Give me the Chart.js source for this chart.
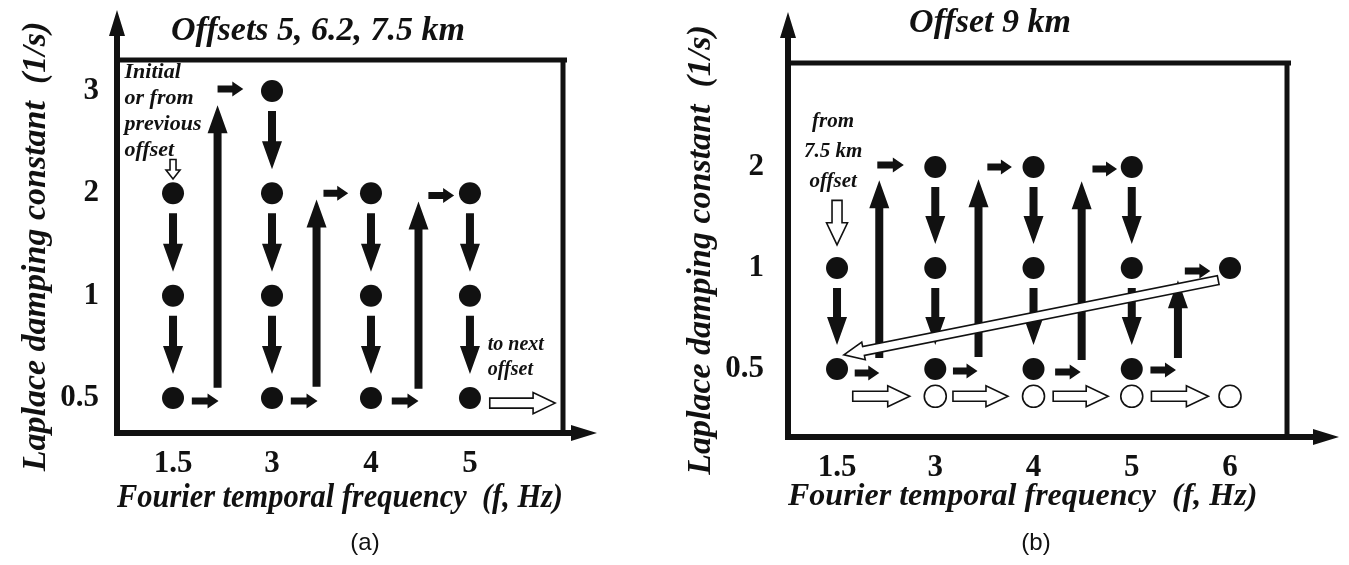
<!DOCTYPE html>
<html>
<head>
<meta charset="utf-8">
<title>Frequency / damping continuation sequence</title>
<script src="https://cdn.jsdelivr.net/npm/chart.js"></script>
<style>
  body { margin: 0; background: #fff; }
  .panel { position: absolute; top: 0; height: 565px; }
  #panelA { left: 0; width: 660px; }
  #panelB { left: 660px; width: 689px; }
</style>
</head>
<body>
<div class="panel" id="panelA"><canvas id="chartA"></canvas></div>
<div class="panel" id="panelB"><canvas id="chartB"></canvas></div>
<script>
// tick labels -- marks are placed on the tick index, so the columns/rows are evenly spaced
const freqTicksA = ['1.5', '3', '4', '5'];
const dampTicksA = ['0.5', '1', '2', '3'];
const freqTicksB = ['1.5', '3', '4', '5', '6'];
const dampTicksB = ['0.5', '1', '2'];

// inversion steps [freqIndex, dampIndex]
const dotsA = [[0, 2], [0, 1], [0, 0], [1, 3], [1, 2], [1, 1], [1, 0],
               [2, 2], [2, 1], [2, 0], [3, 2], [3, 1], [3, 0]];
const dotsB = [[0, 1], [0, 0], [1, 2], [1, 1], [1, 0], [2, 2], [2, 1], [2, 0],
               [3, 2], [3, 1], [3, 0], [4, 1]];
// open circles sit on their own row just under 0.5
const openRowB = -0.27;
const openColsB = [1, 2, 3, 4];

// arrows, [x1, y1, x2, y2] in index units
const stepDownA = [[0, 2, 0, 1], [0, 1, 0, 0], [1, 3, 1, 2], [1, 2, 1, 1], [1, 1, 1, 0],
                   [2, 2, 2, 1], [2, 1, 2, 0], [3, 2, 3, 1], [3, 1, 3, 0]];
const hopA = [[0.19, -0.03, 0.46, -0.03], [1.19, -0.03, 1.46, -0.03], [2.21, -0.03, 2.48, -0.03],
              [0.45, 3.02, 0.71, 3.02], [1.52, 2.0, 1.77, 2.0], [2.58, 1.98, 2.84, 1.98]];
const climbA = [[0.45, 0.1, 0.45, 2.86], [1.45, 0.11, 1.45, 1.94], [2.48, 0.09, 2.48, 1.92]];
const nextOffsetA = [[3.2, -0.05, 3.86, -0.05]];
const startA = [[0, 2.33, 0, 2.14]];

const stepDownB = [[0, 1, 0, 0], [1, 2, 1, 1], [1, 1, 1, 0], [2, 2, 2, 1], [2, 1, 2, 0],
                   [3, 2, 3, 1], [3, 1, 3, 0]];
const hopB = [[0.18, -0.04, 0.43, -0.04], [1.18, -0.02, 1.43, -0.02], [2.22, -0.03, 2.48, -0.03],
              [3.19, -0.01, 3.45, -0.01], [0.41, 2.02, 0.68, 2.02], [1.53, 2.0, 1.78, 2.0],
              [2.6, 1.98, 2.85, 1.98], [3.54, 0.97, 3.8, 0.97]];
const climbB = [[0.43, 0.11, 0.43, 1.87], [1.44, 0.12, 1.44, 1.88], [2.49, 0.09, 2.49, 1.86],
                [3.47, 0.11, 3.47, 0.88]];
const openHopB = [[0.16, -0.27, 0.74, -0.27], [1.18, -0.27, 1.74, -0.27],
                  [2.2, -0.27, 2.76, -0.27], [3.2, -0.27, 3.78, -0.27]];
const returnB = [[3.88, 0.88, 0.07, 0.14]];
const startB = [[0, 1.67, 0, 1.23]];

const INK = '#111';
const SERIF = '"Liberation Serif", "Times New Roman", serif';

const styles = {
  big:    { shaft: 8, head: 28, headW: 20 },
  small:  { shaft: 7, head: 11, headW: 15 },
  open:   { shaft: 10, head: 22, headW: 21, hollow: true },
  openSm: { shaft: 6, head: 9, headW: 14, hollow: true },
  long:   { shaft: 9, head: 20, headW: 18, hollow: true }
};

function drawArrow(ctx, x1, y1, x2, y2, s) {
  const len = Math.hypot(x2 - x1, y2 - y1);
  const hl = Math.min(s.head, len * 0.6);
  ctx.save();
  ctx.translate(x1, y1);
  ctx.rotate(Math.atan2(y2 - y1, x2 - x1));
  ctx.beginPath();
  ctx.moveTo(0, -s.shaft / 2);
  ctx.lineTo(len - hl, -s.shaft / 2);
  ctx.lineTo(len - hl, -s.headW / 2);
  ctx.lineTo(len, 0);
  ctx.lineTo(len - hl, s.headW / 2);
  ctx.lineTo(len - hl, s.shaft / 2);
  ctx.lineTo(0, s.shaft / 2);
  ctx.closePath();
  if (s.hollow) {
    ctx.fillStyle = '#fff';
    ctx.fill();
    ctx.lineWidth = 1.6;
    ctx.strokeStyle = INK;
    ctx.stroke();
  } else {
    ctx.fillStyle = INK;
    ctx.fill();
  }
  ctx.restore();
}

// arrows between two dots are trimmed so they start/stop short of the markers
function drawArrowSet(chart, list, style, trimStart, trimEnd) {
  const { ctx, scales: { x, y } } = chart;
  list.forEach(([a, b, c, d]) => {
    let x1 = x.getPixelForValue(a), y1 = y.getPixelForValue(b);
    let x2 = x.getPixelForValue(c), y2 = y.getPixelForValue(d);
    const len = Math.hypot(x2 - x1, y2 - y1);
    const ux = (x2 - x1) / len, uy = (y2 - y1) / len;
    x1 += ux * trimStart; y1 += uy * trimStart;
    x2 -= ux * trimEnd; y2 -= uy * trimEnd;
    drawArrow(ctx, x1, y1, x2, y2, style);
  });
}

function drawNote(chart, note) {
  const { ctx, scales: { x, y } } = chart;
  ctx.save();
  ctx.font = 'italic bold ' + note.size + 'px ' + SERIF;
  ctx.fillStyle = INK;
  ctx.textAlign = note.align;
  ctx.textBaseline = 'middle';
  const px = x.getPixelForValue(note.x);
  const py = y.getPixelForValue(note.y);
  note.lines.forEach((t, i) => ctx.fillText(t, px, py + i * note.lead));
  ctx.restore();
}

// frame: axis arrows beyond the plot box, plus top/right edges of the box
const framePlugin = {
  id: 'frame',
  beforeDatasetsDraw(chart, args, o) {
    const { ctx, chartArea: a } = chart;
    ctx.save();
    ctx.strokeStyle = INK;
    ctx.fillStyle = INK;
    ctx.lineWidth = 5;
    ctx.beginPath();
    ctx.moveTo(a.left, a.top);
    ctx.lineTo(a.right + 4, a.top);
    ctx.moveTo(a.right, a.top);
    ctx.lineTo(a.right, a.bottom);
    ctx.stroke();
    ctx.lineWidth = 6;
    ctx.beginPath();
    ctx.moveTo(a.left, a.top);
    ctx.lineTo(a.left, o.yTip + 20);
    ctx.moveTo(a.right, a.bottom);
    ctx.lineTo(o.xTip - 20, a.bottom);
    ctx.stroke();
    ctx.beginPath();
    ctx.moveTo(a.left, o.yTip);
    ctx.lineTo(a.left - 8, o.yTip + 26);
    ctx.lineTo(a.left + 8, o.yTip + 26);
    ctx.closePath();
    ctx.moveTo(o.xTip, a.bottom);
    ctx.lineTo(o.xTip - 26, a.bottom - 8);
    ctx.lineTo(o.xTip - 26, a.bottom + 8);
    ctx.closePath();
    ctx.fill();

    ctx.textAlign = 'center';
    ctx.textBaseline = 'middle';
    ctx.font = 'italic bold 34px ' + SERIF;
    ctx.fillText(o.title, o.titleX, o.titleY);
    ctx.font = '24px "Liberation Sans", Arial, sans-serif';
    ctx.fillText(o.tag, o.tagX, o.tagY);
    ctx.restore();
  },
  afterDatasetsDraw(chart, args, o) {
    o.arrows.forEach(g => drawArrowSet(chart, g.list, styles[g.style], g.trim[0], g.trim[1]));
    o.notes.forEach(n => drawNote(chart, n));
  }
};

function makeChart(id, cfg) {
  const ticksOf = labels => scale => { scale.ticks = labels.map((_, i) => ({ value: i })); };
  const datasets = [{
    data: cfg.dots.map(([x, y]) => ({ x, y })),
    pointRadius: 11, pointHoverRadius: 11,
    backgroundColor: INK, borderWidth: 0
  }];
  if (cfg.open) {
    datasets.push({
      data: cfg.open.map(c => ({ x: c, y: cfg.openRow })),
      pointRadius: 11, pointHoverRadius: 11,
      backgroundColor: '#fff', borderColor: INK, borderWidth: 1.6
    });
  }
  return new Chart(document.getElementById(id), {
    type: 'scatter',
    data: { datasets },
    options: {
      responsive: true,
      maintainAspectRatio: false,
      animation: false,
      events: [],
      layout: { padding: { top: cfg.top, right: cfg.right, left: 0, bottom: 0 } },
      scales: {
        x: {
          type: 'linear', min: cfg.xMin, max: cfg.xMax,
          afterBuildTicks: ticksOf(cfg.xTicks),
          afterFit: s => { s.height = cfg.xHeight; },
          grid: { display: false, drawTicks: false },
          border: { display: true, width: 6, color: INK },
          ticks: {
            padding: 12, color: INK,
            font: { family: SERIF, size: 31, weight: 'bold' },
            callback: v => cfg.xTicks[v]
          },
          title: {
            display: true, text: 'Fourier temporal frequency  (f, Hz)', color: INK, align: 'start',
            font: { family: SERIF, size: cfg.xTitleSize, weight: 'bold', style: 'italic' },
            padding: { top: 0, bottom: cfg.xTitlePad }
          }
        },
        y: {
          type: 'linear', min: cfg.yMin, max: cfg.yMax,
          afterBuildTicks: ticksOf(cfg.yTicks),
          afterFit: s => { s.width = cfg.yWidth; },
          grid: { display: false, drawTicks: false },
          border: { display: true, width: 6, color: INK },
          ticks: {
            padding: cfg.yTickPad, color: INK,
            font: { family: SERIF, size: 31, weight: 'bold' },
            callback: v => cfg.yTicks[v]
          },
          title: {
            display: true, text: 'Laplace damping constant  (1/s)', color: INK,
            font: { family: SERIF, size: 34, weight: 'bold', style: 'italic' },
            padding: { top: cfg.yTitlePad, bottom: 0 }
          }
        }
      },
      plugins: {
        legend: { display: false },
        tooltip: { enabled: false },
        frame: cfg.frame
      }
    },
    plugins: [framePlugin]
  });
}

makeChart('chartA', {
  dots: dotsA, xTicks: freqTicksA, yTicks: dampTicksA,
  xMin: -0.566, xMax: 3.94, yMin: -0.342, yMax: 3.303,
  top: 60, right: 97, yWidth: 117, xHeight: 132, xTitlePad: 47, yTitlePad: 16, xTitleSize: 33,
  yTickPad: 18,
  frame: {
    title: 'Offsets 5, 6.2, 7.5 km', titleX: 318, titleY: 31,
    tag: '(a)', tagX: 365, tagY: 543, xTip: 597, yTip: 10,
    arrows: [
      { list: stepDownA, style: 'big', trim: [20, 24] },
      { list: hopA, style: 'small', trim: [0, 0] },
      { list: climbA, style: 'big', trim: [0, 0] },
      { list: nextOffsetA, style: 'open', trim: [0, 0] },
      { list: startA, style: 'openSm', trim: [0, 0] }
    ],
    notes: [
      { lines: ['Initial', 'or from', 'previous', 'offset'], x: -0.49, y: 3.18, lead: 26, size: 22, align: 'left' },
      { lines: ['to next', 'offset'], x: 3.18, y: 0.52, lead: 25, size: 20, align: 'left' }
    ]
  }
});

makeChart('chartB', {
  dots: dotsB, open: openColsB, openRow: openRowB, xTicks: freqTicksB, yTicks: dampTicksB,
  xMin: -0.499, xMax: 4.58, yMin: -0.673, yMax: 3.03,
  top: 63, right: 62, yWidth: 128, xHeight: 128, xTitlePad: 49, yTitlePad: 21, xTitleSize: 32,
  yTickPad: 24,
  frame: {
    title: 'Offset 9 km', titleX: 330, titleY: 23,
    tag: '(b)', tagX: 376, tagY: 543, xTip: 679, yTip: 12,
    arrows: [
      { list: stepDownB, style: 'big', trim: [20, 24] },
      { list: hopB, style: 'small', trim: [0, 0] },
      { list: climbB, style: 'big', trim: [0, 0] },
      { list: openHopB, style: 'open', trim: [0, 0] },
      { list: returnB, style: 'long', trim: [0, 0] },
      { list: startB, style: 'open', trim: [0, 0] }
    ],
    notes: [
      { lines: ['from', '7.5 km', 'offset'], x: -0.04, y: 2.45, lead: 30, size: 21, align: 'center' }
    ]
  }
});
</script>
</body>
</html>
